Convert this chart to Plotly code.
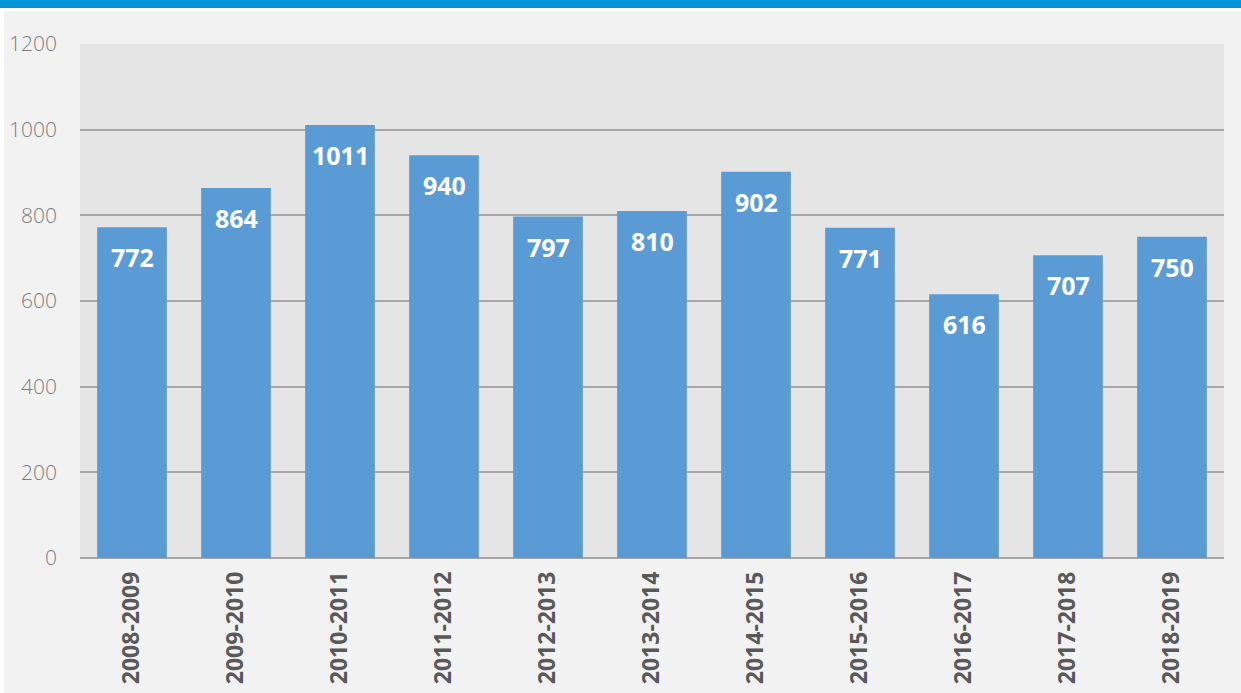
import plotly.graph_objects as go

seasons = ["2008-2009", "2009-2010", "2010-2011", "2011-2012", "2012-2013", "2013-2014",
           "2014-2015", "2015-2016", "2016-2017", "2017-2018", "2018-2019"]
counts = [772, 864, 1011, 940, 797, 810, 902, 771, 616, 707, 750]
y_ticks = [0, 200, 400, 600, 800, 1000, 1200]

W, H = 1241, 693
ML, MR, MT, MB = 80, 17, 44, 135
PW, PH = W - ML - MR, H - MT - MB

def px_x(p):
    return (p - ML) / PW

def px_y(p):
    return 1 - (p - MT) / PH

fig = go.Figure(go.Bar(
    x=seasons, y=counts,
    marker=dict(color="#5b9bd5", line=dict(width=0)),
    hoverinfo="x+y",
))

# value labels placed just inside the top of each bar
for s, v in zip(seasons, counts):
    fig.add_annotation(x=s, y=v, text=f"<b>{v}</b>", showarrow=False,
                       yanchor="middle", yshift=-30,
                       font=dict(family="Open Sans", size=25, color="white"))

shapes = [
    # white frame edges and blue header band
    dict(type="rect", xref="paper", yref="paper", x0=px_x(0), x1=px_x(4), y0=px_y(H), y1=px_y(0),
         fillcolor="white", line=dict(width=0), layer="below"),
    dict(type="rect", xref="paper", yref="paper", x0=px_x(0), x1=px_x(W), y0=px_y(11), y1=px_y(8),
         fillcolor="white", line=dict(width=0), layer="below"),
    dict(type="rect", xref="paper", yref="paper", x0=px_x(0), x1=px_x(W), y0=px_y(8), y1=px_y(0),
         fillcolor="#0096d6", line=dict(width=0), layer="above"),
]

fig.update_layout(
    width=W, height=H,
    margin=dict(l=ML, r=MR, t=MT, b=MB, autoexpand=False),
    paper_bgcolor="#f2f2f2",
    plot_bgcolor="#e5e5e5",
    bargap=0.33,
    showlegend=False,
    shapes=shapes,
    xaxis=dict(
        tickangle=-90, automargin=False,
        tickfont=dict(family="Open Sans", size=23, color="#595959", weight="bold"),
        showgrid=False, ticks="", ticklabelstandoff=8,
        showline=False, fixedrange=True,
    ),
    yaxis=dict(
        range=[0, 1200], tickvals=y_ticks, automargin=False,
        tickfont=dict(family="Open Sans", size=21, color="#7f7f7f", weight=300),
        gridcolor="#a6a6a6", gridwidth=2,
        zeroline=True, zerolinecolor="#a6a6a6", zerolinewidth=2,
        ticks="", ticklabelstandoff=22, showline=False, fixedrange=True,
    ),
)

fig.write_html("out.html")
